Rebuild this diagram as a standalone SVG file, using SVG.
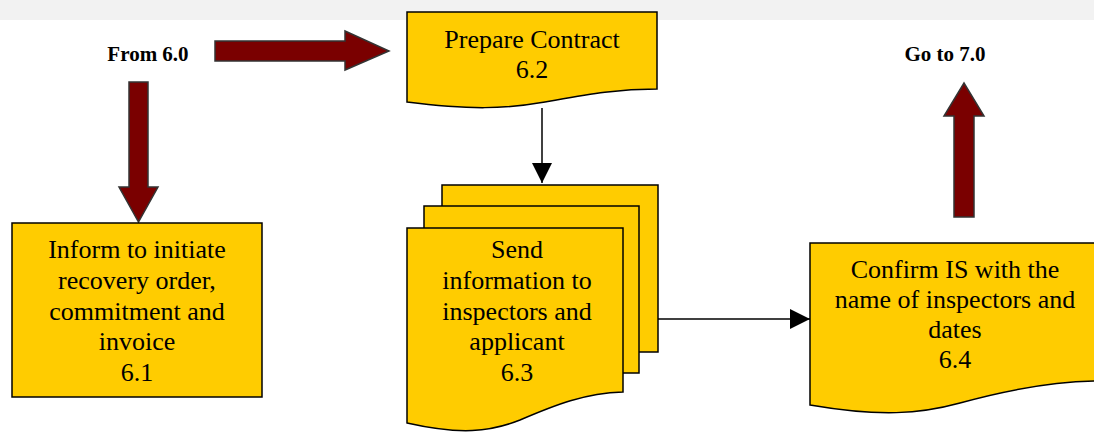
<svg xmlns="http://www.w3.org/2000/svg" width="1094" height="433" viewBox="0 0 1094 433">
  <defs>
    <style>
      .box { fill: #ffcc00; stroke: #000; stroke-width: 1.5; }
      .big { fill: #7a0000; stroke: #333; stroke-width: 1.5; stroke-linejoin: miter; }
      .lbl { font-family: "Liberation Serif", "Times New Roman", serif; font-size: 26px; fill: #000; text-anchor: middle; }
      .tag { font-family: "Liberation Serif", "Times New Roman", serif; font-size: 21px; font-weight: bold; fill: #000; text-anchor: middle; }
      .wire { stroke: #000; stroke-width: 1.5; fill: none; }
    </style>
    <marker id="tip" viewBox="0 0 20 20" refX="20" refY="10" markerWidth="20" markerHeight="20" markerUnits="userSpaceOnUse" orient="auto">
      <path d="M0,0 L20,10 L0,20 Z" fill="#000"/>
    </marker>
  </defs>

  <rect width="1094" height="433" fill="#fff"/>
  <rect x="0" y="0" width="1094" height="20" fill="#f2f2f2"/>

  <!-- entry and exit labels -->
  <text class="tag" x="148" y="61">From 6.0</text>
  <text class="tag" x="945" y="61">Go to 7.0</text>

  <!-- block arrows -->
  <g id="flow-arrows">
    <path class="big" d="M215,41 H345 V31 L389,51 L345,70 V61 H215 Z"/>
    <path class="big" d="M129,82 H148 V187 H158 L138.5,222 L119,187 H129 Z"/>
    <path class="big" d="M954,217 V116 H944 L964,83 L984,116 H974 V217 Z"/>
  </g>

  <g id="step-6-1">
    <rect class="box" x="12" y="223" width="250" height="174"/>
    <text class="lbl" x="137" y="258">Inform to initiate</text>
    <text class="lbl" x="137" y="289">recovery order,</text>
    <text class="lbl" x="137" y="320">commitment and</text>
    <text class="lbl" x="137" y="350">invoice</text>
    <text class="lbl" x="137" y="381">6.1</text>
  </g>

  <g id="step-6-2">
    <path class="box" d="M407,12 H657 V89 C615,89 585,95 545,102 C505,109 470,110 407,102 Z"/>
    <text class="lbl" x="532" y="48">Prepare Contract</text>
    <text class="lbl" x="532" y="78">6.2</text>
  </g>

  <g id="step-6-3">
    <rect class="box" x="442" y="185" width="216" height="167"/>
    <rect class="box" x="424" y="206" width="215" height="167"/>
    <path class="box" d="M407,228 H623 V392 C585,393 555,405 520,420 C490,432 460,435 407,423 Z"/>
    <text class="lbl" x="517" y="258">Send</text>
    <text class="lbl" x="517" y="289">information to</text>
    <text class="lbl" x="517" y="320">inspectors and</text>
    <text class="lbl" x="517" y="350">applicant</text>
    <text class="lbl" x="517" y="381">6.3</text>
  </g>

  <g id="step-6-4">
    <path class="box" d="M810,243 H1100 V381 C1050,381 1000,392 960,403 C920,414 880,417 810,405 Z"/>
    <text class="lbl" x="955" y="278">Confirm IS with the</text>
    <text class="lbl" x="955" y="308">name of inspectors and</text>
    <text class="lbl" x="955" y="338">dates</text>
    <text class="lbl" x="955" y="368">6.4</text>
  </g>

  <!-- connectors -->
  <g id="connectors">
    <line class="wire" x1="542" y1="108" x2="542" y2="183" marker-end="url(#tip)"/>
    <line class="wire" x1="658" y1="319" x2="810" y2="319" marker-end="url(#tip)"/>
  </g>
</svg>
